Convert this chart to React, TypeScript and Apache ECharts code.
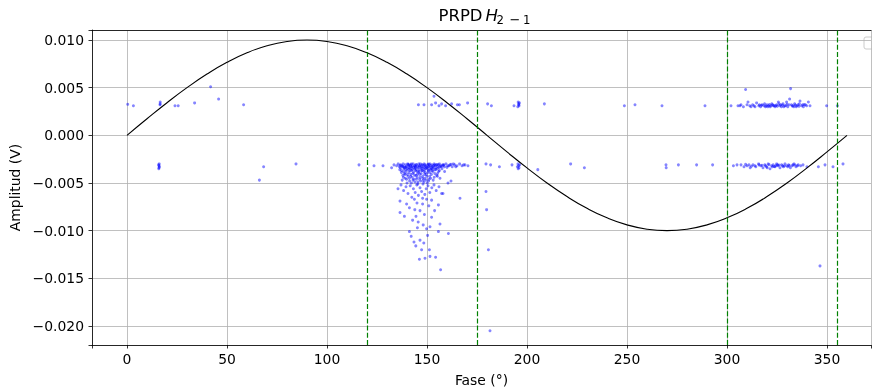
import React, { useEffect, useRef } from "react";
import * as echarts from "echarts";

// Reference wave (0.01 V amplitude) read at 10° steps
const sinePhase = [0, 10, 20, 30, 40, 50, 60, 70, 80, 90, 100, 110, 120, 130, 140, 150, 160, 170, 180,
  190, 200, 210, 220, 230, 240, 250, 260, 270, 280, 290, 300, 310, 320, 330, 340, 350, 360];
const sineAmplitude = [0, 0.001736, 0.00342, 0.005, 0.006428, 0.00766, 0.00866, 0.009397, 0.009848, 0.01,
  0.009848, 0.009397, 0.00866, 0.00766, 0.006428, 0.005, 0.00342, 0.001736, 0,
  -0.001736, -0.00342, -0.005, -0.006428, -0.00766, -0.00866, -0.009397, -0.009848, -0.01,
  -0.009848, -0.009397, -0.00866, -0.00766, -0.006428, -0.005, -0.00342, -0.001736, 0];

const phaseLimits = [120, 175, 300, 355];

const leftPositive = [[0.35, 0.00325], [3.2, 0.0031], [16.6, 0.0035], [16.6, 0.0033], [16.5, 0.0032], [24.0, 0.0031],
  [25.6, 0.0031], [33.8, 0.0034], [41.8, 0.0051], [45.8, 0.0038], [58.3, 0.0032]];

const leftNegative = [[15.8, -0.0031], [16.0, -0.0032], [16.2, -0.0033], [16.0, -0.0034], [15.9, -0.0035],
  [16.1, -0.003], [66.2, -0.0047], [68.3, -0.0033], [84.5, -0.003], [116, -0.0031], [123.5, -0.0032],
  [128, -0.0032], [132.3, -0.0034]];

const mainTopBand = [[133.5, -0.0031], [134.8, -0.0032], [135.6, -0.003], [136.2, -0.0033], [136.9, -0.0031],
  [137.5, -0.0032], [138.1, -0.003], [138.6, -0.0034], [139.2, -0.0031], [139.8, -0.0033], [140.3, -0.003],
  [140.9, -0.0032], [141.4, -0.0034], [142.0, -0.0031], [142.6, -0.0033], [143.1, -0.003], [143.7, -0.0032],
  [144.2, -0.0034], [144.8, -0.0031], [145.3, -0.0033], [145.9, -0.003], [146.4, -0.0032], [147.0, -0.0034],
  [147.5, -0.0031], [148.1, -0.0033], [148.6, -0.003], [149.2, -0.0032], [149.7, -0.0034], [150.3, -0.0031],
  [150.8, -0.0033], [151.4, -0.003], [151.9, -0.0032], [152.5, -0.0031], [153.0, -0.0033], [153.6, -0.003],
  [154.2, -0.0032], [154.9, -0.0031], [155.5, -0.0033], [156.2, -0.003], [157.0, -0.0032], [157.8, -0.0031],
  [158.7, -0.0033], [159.5, -0.003], [160.4, -0.0032], [161.5, -0.0031], [162.6, -0.0033], [163.8, -0.0031],
  [165.0, -0.0032], [166.3, -0.003], [167.5, -0.0032], [169.0, -0.0031],
  [136.5, -0.00315], [137.8, -0.00325], [139.0, -0.00335], [140.6, -0.00305], [141.7, -0.00318],
  [143.4, -0.00338], [144.5, -0.00308], [146.1, -0.00322], [147.8, -0.00312], [149.4, -0.00328],
  [150.6, -0.00302], [152.2, -0.00336], [153.3, -0.00318], [155.0, -0.00308], [156.6, -0.00326],
  [158.2, -0.00314], [160.0, -0.00336], [162.0, -0.00305],
  [140.9, -0.0031], [142.2, -0.003], [144.0, -0.0032], [146.7, -0.003], [148.9, -0.0031], [151.1, -0.0031],
  [153.9, -0.0031], [155.8, -0.0031], [158.4, -0.0031], [161.0, -0.0032], [163.2, -0.003], [164.4, -0.0033],
  [168.3, -0.0031], [170.5, -0.0032]];

const mainCore = [[136.4, -0.0036], [137.2, -0.0039], [137.9, -0.0042], [138.5, -0.0035], [139.1, -0.0045],
  [139.6, -0.0038], [140.2, -0.0041], [140.7, -0.0036], [141.3, -0.0048], [141.8, -0.0043], [142.3, -0.0037],
  [142.9, -0.004], [143.4, -0.0046], [143.9, -0.0035], [144.5, -0.0042], [145.0, -0.0038], [145.5, -0.0049],
  [146.1, -0.0036], [146.6, -0.0044], [147.1, -0.004], [147.7, -0.0037], [148.2, -0.0047], [148.8, -0.0041],
  [149.3, -0.0035], [149.9, -0.0043], [150.4, -0.0039], [151.0, -0.0046], [151.6, -0.0036], [152.2, -0.0041],
  [152.9, -0.0038], [153.6, -0.0044], [154.4, -0.0036], [155.3, -0.004], [156.2, -0.0037], [157.5, -0.0035],
  [158.8, -0.0038], [137.6, -0.0047], [138.8, -0.004], [140.0, -0.005], [141.0, -0.0039], [142.6, -0.0044],
  [144.0, -0.0049], [145.2, -0.0041], [146.9, -0.0048], [148.5, -0.0038], [150.1, -0.005], [151.3, -0.0043],
  [153.1, -0.0047], [154.8, -0.0042], [156.5, -0.0045], [144.2, -0.0037], [147.4, -0.0035], [150.8, -0.0037],
  [139.4, -0.0036], [142.0, -0.0035], [145.8, -0.0039], [149.0, -0.0045], [152.5, -0.0035], [155.8, -0.0038],
  [136.8, -0.0034], [137.3, -0.0037], [138.0, -0.0033], [138.4, -0.0038], [139.0, -0.0041], [139.5, -0.0033],
  [140.1, -0.0035], [140.5, -0.0043], [141.0, -0.0034], [141.5, -0.0037], [141.9, -0.0041], [142.4, -0.0033],
  [142.8, -0.0036], [143.3, -0.0039], [143.8, -0.0042], [144.3, -0.0033], [144.7, -0.0036], [145.1, -0.0044],
  [145.6, -0.0034], [146.0, -0.0038], [146.4, -0.0041], [146.9, -0.0033], [147.3, -0.0037], [147.8, -0.0043],
  [148.3, -0.0034], [148.7, -0.0036], [149.1, -0.0039], [149.6, -0.0041], [150.0, -0.0034], [150.5, -0.0036],
  [151.0, -0.0033], [151.5, -0.0039], [152.0, -0.0035], [152.6, -0.0037], [153.2, -0.0034], [153.8, -0.0036],
  [154.5, -0.0034], [155.1, -0.0035], [156.0, -0.0034], [157.2, -0.0033], [141.2, -0.0045], [143.0, -0.0047],
  [144.7, -0.0046], [146.3, -0.0046], [147.9, -0.0045], [149.5, -0.0047], [151.8, -0.0045], [139.8, -0.0046],
  [142.2, -0.005], [145.4, -0.0051], [148.4, -0.0049], [150.8, -0.0048], [138.2, -0.0044], [153.9, -0.004],
  [155.2, -0.0043]];

const mainMidTail = [[137.0, -0.0052], [138.3, -0.0058], [139.5, -0.0054], [140.5, -0.0061], [141.6, -0.0053],
  [142.4, -0.0065], [143.2, -0.0056], [144.1, -0.006], [144.9, -0.0052], [145.7, -0.0063], [146.5, -0.0055],
  [147.3, -0.0059], [148.0, -0.0051], [148.9, -0.0062], [149.6, -0.0056], [150.5, -0.0053], [151.4, -0.006],
  [152.4, -0.0055], [153.5, -0.0052], [154.6, -0.0058], [156.0, -0.0054], [157.3, -0.0061], [158.0, -0.0061],
  [160.5, -0.005], [162.0, -0.0048], [166.5, -0.0066], [135.5, -0.0056], [143.7, -0.0067], [147.8, -0.0066]];

const mainLowerTail = [[136.5, -0.0069], [141.2, -0.0076], [136.5, -0.0081], [138.7, -0.0085], [142.8, -0.0089],
  [144.5, -0.0085], [146.5, -0.0079], [147.8, -0.0072], [149.8, -0.0067], [152.3, -0.0068], [155.7, -0.0073],
  [152.3, -0.0086], [156.5, -0.0093], [141.2, -0.0101], [145.2, -0.0097], [149.8, -0.0098], [151.5, -0.0096],
  [155.7, -0.0101], [160.7, -0.0103], [143.5, -0.0112], [146.5, -0.011], [147.3, -0.012], [151.2, -0.012],
  [146.2, -0.013], [149.0, -0.0129], [151.5, -0.0127], [154.3, -0.0128], [156.8, -0.0141], [139.8, -0.0072],
  [143.9, -0.0078], [148.7, -0.0083], [150.9, -0.0074], [145.6, -0.0091], [148.1, -0.0094], [142.1, -0.0106],
  [150.3, -0.0105], [144.4, -0.0116], [148.4, -0.0113], [145.0, -0.0071], [153.8, -0.0079]];

const midPositive = [[145.7, 0.0032], [148.5, 0.0032], [152.3, 0.0032], [153.5, 0.0041], [154.3, 0.0034],
  [156.0, 0.0031], [157.3, 0.0033], [159.3, 0.0031], [162.3, 0.0033], [165.2, 0.0032], [166.2, 0.0032],
  [170.3, 0.0034], [180.3, 0.0033], [182.2, 0.0031], [193.5, 0.0031], [195.6, 0.0035], [195.8, 0.0033],
  [196.0, 0.0031], [195.4, 0.003], [196.2, 0.0034], [195.9, 0.0032], [208.7, 0.0033], [248.7, 0.0031],
  [254.0, 0.0032], [267.5, 0.0031], [289.0, 0.0031]];

const midNegative = [[179.5, -0.0059], [179.8, -0.0078], [180.7, -0.012], [181.5, -0.0205], [179.5, -0.003],
  [181.8, -0.0031], [186.2, -0.0033], [192.5, -0.0031], [195.5, -0.003], [195.8, -0.0032], [196.0, -0.0034],
  [195.6, -0.0035], [196.3, -0.0031], [195.2, -0.0033], [205.4, -0.0036], [221.8, -0.003], [228.7, -0.0034],
  [269.5, -0.0031], [269.6, -0.0034], [275.7, -0.0031], [284.8, -0.0031], [292.8, -0.0031]];

const rightPositive = [[302.0, 0.0031], [305.5, 0.0031], [307.0, 0.0032], [308.2, 0.003], [309.3, 0.0048],
  [310.5, 0.0035], [311.4, 0.0031], [312.8, 0.0032], [314.0, 0.003], [314.8, 0.0034], [315.9, 0.0031],
  [316.8, 0.003], [317.6, 0.0032], [318.4, 0.0031], [319.2, 0.003], [320.0, 0.0032], [320.8, 0.0031],
  [321.6, 0.003], [322.4, 0.0033], [323.2, 0.0031], [324.0, 0.003], [324.8, 0.0032], [325.7, 0.0035],
  [326.4, 0.0031], [327.2, 0.003], [328.0, 0.0033], [328.8, 0.0031], [329.8, 0.0035], [330.4, 0.003],
  [331.3, 0.0038], [331.8, 0.0049], [332.2, 0.0032], [333.0, 0.0031], [333.8, 0.0033], [334.6, 0.003],
  [335.5, 0.0032], [336.5, 0.0036], [337.3, 0.0031], [338.2, 0.003], [339.2, 0.0032], [340.7, 0.0035],
  [341.5, 0.0031], [349.8, 0.0031], [355.2, 0.0031], [317.2, 0.00315], [319.6, 0.00308], [321.2, 0.00322],
  [323.6, 0.00312], [325.2, 0.00305], [327.6, 0.00318], [330.0, 0.00325], [332.6, 0.00308], [334.2, 0.00318],
  [336.0, 0.00305], [338.6, 0.00322], [316.2, 0.0032], [318.8, 0.0033], [320.4, 0.003], [322.0, 0.0031],
  [322.8, 0.0032], [324.4, 0.0031], [326.0, 0.0033], [326.8, 0.0032], [328.4, 0.003], [329.4, 0.0031],
  [331.0, 0.0032], [333.4, 0.003], [335.0, 0.0031], [336.2, 0.0033], [337.8, 0.0032], [339.8, 0.0031],
  [312.0, 0.003], [313.5, 0.0031], [310.0, 0.0032], [306.5, 0.0031]];

const rightNegative = [[303.2, -0.0032], [307.0, -0.0031], [308.5, -0.0033], [310.0, -0.0032], [311.6, -0.0034],
  [313.0, -0.0031], [314.4, -0.0033], [315.8, -0.003], [316.9, -0.0032], [318.0, -0.0034], [318.9, -0.0031],
  [319.8, -0.0033], [320.6, -0.003], [321.5, -0.0035], [322.3, -0.0032], [323.1, -0.0031], [324.0, -0.0033],
  [324.8, -0.003], [325.6, -0.0032], [326.5, -0.0034], [327.3, -0.0031], [328.2, -0.0033], [329.0, -0.003],
  [329.9, -0.0032], [330.8, -0.0031], [331.7, -0.0034], [332.6, -0.0032], [333.5, -0.003], [334.5, -0.0033],
  [335.6, -0.0031], [336.8, -0.0032], [340.0, -0.0033], [345.7, -0.0033], [349.0, -0.0031], [353.0, -0.0033],
  [358.0, -0.003], [346.5, -0.0137], [317.5, -0.00315], [321.0, -0.00308], [323.6, -0.00328], [326.0, -0.00312],
  [328.7, -0.00322], [331.2, -0.00318], [334.0, -0.00312], [309.3, -0.00305], [312.2, -0.00325],
  [316.0, -0.0031], [319.3, -0.0032], [322.7, -0.0033], [325.2, -0.0031], [327.8, -0.0032], [330.4, -0.0033],
  [333.0, -0.0031], [335.2, -0.0032], [338.0, -0.0031], [314.0, -0.0032], [311.0, -0.0031], [305.0, -0.0031],
  [320.1, -0.0034], [324.4, -0.0032]];

const FONT = "DejaVu Sans";

export default function App() {
  const ref = useRef<HTMLDivElement>(null);
  useEffect(() => {
    const chart = echarts.init(ref.current!, null, { renderer: "svg" });
    const points = [
      ...leftPositive, ...leftNegative, ...mainTopBand, ...mainCore, ...mainMidTail,
      ...mainLowerTail, ...midPositive, ...midNegative, ...rightPositive, ...rightNegative,
    ];
    const axisLineStyle = { color: "#000", width: 0.8 };
    chart.setOption({
      animation: false,
      grid: { left: 92, top: 30, right: 1, bottom: 46, outerBoundsMode: "none", containLabel: false },
      xAxis: [
        {
          type: "value", min: -17.5, max: 372, splitNumber: 8,
          axisLine: { show: true, onZero: false, lineStyle: axisLineStyle },
          axisTick: { show: true, length: 3.5, lineStyle: axisLineStyle },
          axisLabel: {
            color: "#000", fontSize: 13.9, fontFamily: FONT, margin: 7,
            formatter: (v: number) => (Math.abs(v % 50) < 1e-6 ? String(v) : ""),
          },
          splitLine: { show: true, lineStyle: { color: "#b0b0b0", width: 0.8 } },
          name: "Fase (°)", nameLocation: "middle", nameGap: 28,
          nameTextStyle: { color: "#000", fontSize: 13.9, fontFamily: FONT },
        },
        {
          type: "value", min: -17.5, max: 372, position: "top",
          axisLine: { show: true, onZero: false, lineStyle: axisLineStyle },
          axisTick: { show: false }, axisLabel: { show: false }, splitLine: { show: false },
        },
      ],
      yAxis: {
        type: "value", min: -0.022, max: 0.01105, splitNumber: 7,
        axisLine: { show: true, onZero: false, lineStyle: axisLineStyle },
        axisTick: { show: true, length: 3.5, lineStyle: axisLineStyle },
        axisLabel: {
          color: "#000", fontSize: 13.9, fontFamily: FONT, margin: 8,
          formatter: (v: number) => {
            const r = v / 0.005;
            if (Math.abs(r - Math.round(r)) > 1e-6) return "";
            const s = Math.abs(v).toFixed(3);
            return v < -1e-9 ? "\u2212" + s : s;
          },
        },
        splitLine: { show: true, lineStyle: { color: "#b0b0b0", width: 0.8 } },
        name: "Amplitud (V)", nameLocation: "middle", nameGap: 66,
        nameTextStyle: { color: "#000", fontSize: 13.9, fontFamily: FONT },
      },
      series: [
        {
          type: "scatter", data: points, symbol: "circle", symbolSize: 3,
          itemStyle: { color: "rgba(0,0,255,0.6)" }, z: 2, silent: true,
        },
        {
          type: "line", data: sinePhase.map((p, i) => [p, sineAmplitude[i]]), smooth: true,
          showSymbol: false, symbol: "none", lineStyle: { color: "#000", width: 1.1 }, z: 3, silent: true,
          markLine: {
            silent: true, symbol: ["none", "none"], label: { show: false },
            lineStyle: { color: "#008000", type: [5, 2.2], width: 1.2 },
            data: phaseLimits.map((v) => ({ xAxis: v })),
          },
        },
      ],
      graphic: [
        { type: "text", x: 438.5, y: 15, style: { text: "PRPD", font: `16.5px ${FONT}`, fill: "#000", verticalAlign: "middle" } },
        { type: "text", x: 485.5, y: 15, style: { text: "H", font: `italic 16.5px ${FONT}`, fill: "#000", verticalAlign: "middle" } },
        { type: "text", x: 496.5, y: 19.5, style: { text: "2", font: `11.7px ${FONT}`, fill: "#000", verticalAlign: "middle" } },
        { type: "text", x: 509.5, y: 19.5, style: { text: "\u2212", font: `13px ${FONT}`, fill: "#000", verticalAlign: "middle" } },
        { type: "text", x: 523, y: 19.5, style: { text: "1", font: `11.7px ${FONT}`, fill: "#000", verticalAlign: "middle" } },
        { type: "rect", shape: { x: 864, y: 37, width: 20, height: 12, r: 2 }, style: { fill: "#fff", stroke: "#cccccc", lineWidth: 1 } },
      ],
    });
    return () => chart.dispose();
  }, []);
  return <div ref={ref} style={{ position: "fixed", left: 0, top: 0, width: 872, height: 391 }} />;
}
